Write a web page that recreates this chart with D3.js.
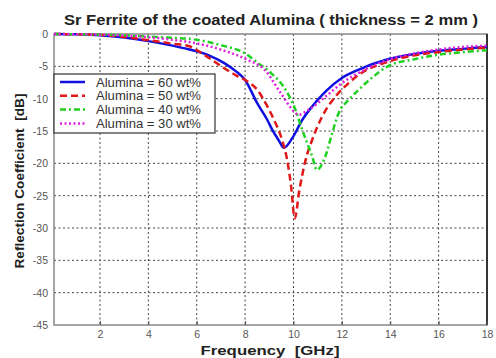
<!DOCTYPE html>
<html>
<head>
<meta charset="utf-8">
<script src="https://cdn.jsdelivr.net/npm/d3@7"></script>
<style>
  body { margin: 0; background: #fff; }
  svg { display: block; font-family: "Liberation Sans", Arial, sans-serif; }
</style>
</head>
<body>
<main></main>
<script>
const w = 496;
const h = 358;
const margin = { top: 34, right: 9, bottom: 33, left: 54 };

const xTicks = [2, 4, 6, 8, 10, 12, 14, 16, 18];
const yTicks = [0, -5, -10, -15, -20, -25, -30, -35, -40, -45];

// Alumina = 60 wt%
const freq60 = [0.1, 1, 2, 3, 4, 5, 5.7, 6.5, 7.14, 7.6, 8, 8.5, 8.92, 9.12, 9.4, 9.6, 9.95, 10.36, 10.77, 11.32, 12, 12.7, 13.9, 15, 16, 17, 18];
const rc60 = [0, -0.05, -0.2, -0.55, -1.1, -1.8, -2.4, -3.3, -4.5, -5.7, -7.1, -10.7, -13.3, -14.8, -16.5, -17.6, -16.1, -13.3, -11.2, -8.9, -6.8, -5.5, -3.9, -3.1, -2.6, -2.3, -2.0];

// Alumina = 50 wt%
const freq50 = [0.1, 1, 2, 3, 4, 5, 5.7, 6.0, 6.55, 7.14, 7.68, 8.09, 8.5, 8.92, 9.2, 9.53, 9.74, 9.9, 10.05, 10.25, 10.5, 10.77, 11.18, 11.73, 12.28, 12.7, 13.9, 15, 16, 17, 18];
const rc50 = [0, -0.05, -0.15, -0.45, -0.95, -1.5, -1.9, -2.5, -3.8, -5.3, -6.5, -7.3, -8.6, -11.2, -13.3, -16.4, -19.5, -23.5, -28.5, -24, -19.5, -16.4, -12.8, -9.7, -7.6, -6.3, -4.3, -3.3, -2.8, -2.4, -2.1];

// Alumina = 40 wt%
const freq40 = [0.1, 2, 3, 4, 5, 5.7, 7.07, 8, 8.5, 9.06, 9.6, 10.08, 10.36, 10.77, 10.97, 11.32, 11.6, 11.87, 12.28, 12.7, 13.3, 13.9, 15, 16, 17, 18];
const rc40 = [0, -0.1, -0.2, -0.4, -0.6, -0.75, -1.8, -3.0, -4.4, -6.0, -8.2, -11.7, -14.8, -18.9, -21, -18.9, -15.3, -12.2, -10.2, -8.6, -6.6, -5.0, -3.9, -3.2, -2.8, -2.5];

// Alumina = 30 wt%
const freq30 = [0.1, 2, 3, 4, 5, 5.7, 7.07, 8.1, 8.8, 9.45, 10.08, 10.2, 10.63, 11.32, 12, 12.7, 13.9, 15, 16, 17, 18];
const rc30 = [0, -0.1, -0.25, -0.5, -0.9, -1.25, -2.5, -4.0, -5.5, -9.0, -12.2, -12.5, -11.7, -9.7, -7.6, -6.0, -4.0, -3.0, -2.4, -2.0, -1.8];

const seriesNames = ["Alumina = 60 wt%", "Alumina = 50 wt%", "Alumina = 40 wt%", "Alumina = 30 wt%"];
const series = [
    { name: seriesNames[0], f: freq60, v: rc60, color: "#1010e0", dash: null },
    { name: seriesNames[1], f: freq50, v: rc50, color: "#e01818", dash: "7,4" },
    { name: seriesNames[2], f: freq40, v: rc40, color: "#20d020", dash: "6,3,2,3" },
    { name: seriesNames[3], f: freq30, v: rc30, color: "#e020e0", dash: "2,2.5" }
];

const xScale = d3.scaleLinear()
    .domain([0.1, 18])
    .range([margin.left, w - margin.right]);

const yScale = d3.scaleLinear()
    .domain([-45, 0])
    .range([h - margin.bottom, margin.top]);

const svg = d3.select("main")
    .append("svg")
    .attr("width", w)
    .attr("height", h);

// grid
svg.append("g")
    .selectAll("line")
    .data(xTicks.slice(0, -1))
    .enter()
    .append("line")
    .attr("x1", d => xScale(d))
    .attr("x2", d => xScale(d))
    .attr("y1", margin.top)
    .attr("y2", h - margin.bottom)
    .attr("stroke", "#444")
    .attr("stroke-dasharray", "2,2.5");

svg.append("g")
    .selectAll("line")
    .data(yTicks.slice(1, -1))
    .enter()
    .append("line")
    .attr("x1", margin.left)
    .attr("x2", w - margin.right)
    .attr("y1", d => yScale(d))
    .attr("y2", d => yScale(d))
    .attr("stroke", "#444")
    .attr("stroke-dasharray", "2,2.5");

// frame
svg.append("rect")
    .attr("x", margin.left)
    .attr("y", margin.top)
    .attr("width", w - margin.left - margin.right)
    .attr("height", h - margin.top - margin.bottom)
    .attr("fill", "none")
    .attr("stroke", "#888")
    .attr("stroke-width", 1.5);

svg.append("line")
    .attr("x1", w - margin.right)
    .attr("x2", w - margin.right)
    .attr("y1", margin.top)
    .attr("y2", h - margin.bottom)
    .attr("stroke", "#111")
    .attr("stroke-width", 1.5);

// axes
const xAxis = d3.axisBottom(xScale).tickValues(xTicks).tickSize(3).tickPadding(3);
const yAxis = d3.axisLeft(yScale).tickValues(yTicks).tickSize(0).tickPadding(6);

svg.append("g")
    .attr("id", "x-axis")
    .attr("transform", "translate(0," + (h - margin.bottom) + ")")
    .call(xAxis)
    .call(g => g.select(".domain").remove())
    .call(g => g.selectAll(".tick line").attr("y2", -4).attr("stroke", "#555"))
    .call(g => g.selectAll("text").attr("font-size", 10.5).attr("fill", "#555").attr("font-family", "Liberation Sans, Arial, sans-serif"));

svg.append("g")
    .attr("id", "y-axis")
    .attr("transform", "translate(" + margin.left + ",0)")
    .call(yAxis.tickFormat(d => String(d)))
    .call(g => g.select(".domain").remove())
    .call(g => g.selectAll("text").attr("font-size", 10.5).attr("fill", "#555").attr("font-family", "Liberation Sans, Arial, sans-serif"));

// curves
const line = d3.line()
    .x(d => xScale(d[0]))
    .y(d => yScale(d[1]))
    .curve(d3.curveMonotoneX);

svg.append("g")
    .selectAll("path")
    .data(series)
    .enter()
    .append("path")
    .attr("d", s => line(s.f.map((f, i) => [f, s.v[i]])))
    .attr("fill", "none")
    .attr("stroke", s => s.color)
    .attr("stroke-width", 2.5)
    .attr("stroke-dasharray", s => s.dash);

// legend
const legend = svg.append("g").attr("transform", "translate(" + margin.left + ",74)");
legend.append("rect")
    .attr("width", 161)
    .attr("height", 59)
    .attr("fill", "#fff")
    .attr("stroke", "#333")
    .attr("stroke-width", 1.2);

const entry = legend.selectAll(".entry")
    .data(series)
    .enter()
    .append("g")
    .attr("class", "entry")
    .attr("transform", (d, i) => "translate(0," + (8 + i * 13.8) + ")");

entry.append("line")
    .attr("x1", 6)
    .attr("x2", 31)
    .attr("stroke", s => s.color)
    .attr("stroke-width", 2.5)
    .attr("stroke-dasharray", s => s.dash);

entry.append("text")
    .attr("x", 42)
    .attr("y", 4.5)
    .attr("font-size", 12)
    .attr("textLength", 105)
    .attr("lengthAdjust", "spacingAndGlyphs")
    .attr("fill", "#333")
    .text(s => s.name);

// titles
svg.append("text")
    .attr("x", 271)
    .attr("y", 25)
    .attr("text-anchor", "middle")
    .attr("font-size", 14)
    .attr("font-weight", "bold")
    .attr("textLength", 414)
    .attr("lengthAdjust", "spacingAndGlyphs")
    .attr("fill", "#222")
    .text("Sr Ferrite of the coated Alumina ( thickness = 2 mm )");

svg.append("text")
    .attr("x", 270)
    .attr("y", 355)
    .attr("text-anchor", "middle")
    .attr("font-size", 12.5)
    .attr("font-weight", "bold")
    .attr("textLength", 139)
    .attr("lengthAdjust", "spacingAndGlyphs")
    .attr("fill", "#222")
    .text("Frequency\u00a0\u00a0[GHz]");

svg.append("text")
    .attr("transform", "translate(24,181) rotate(-90)")
    .attr("text-anchor", "middle")
    .attr("font-size", 13)
    .attr("font-weight", "bold")
    .attr("textLength", 175)
    .attr("lengthAdjust", "spacingAndGlyphs")
    .attr("fill", "#222")
    .text("Reflection Coefficient\u00a0\u00a0[dB]");
</script>
</body>
</html>
